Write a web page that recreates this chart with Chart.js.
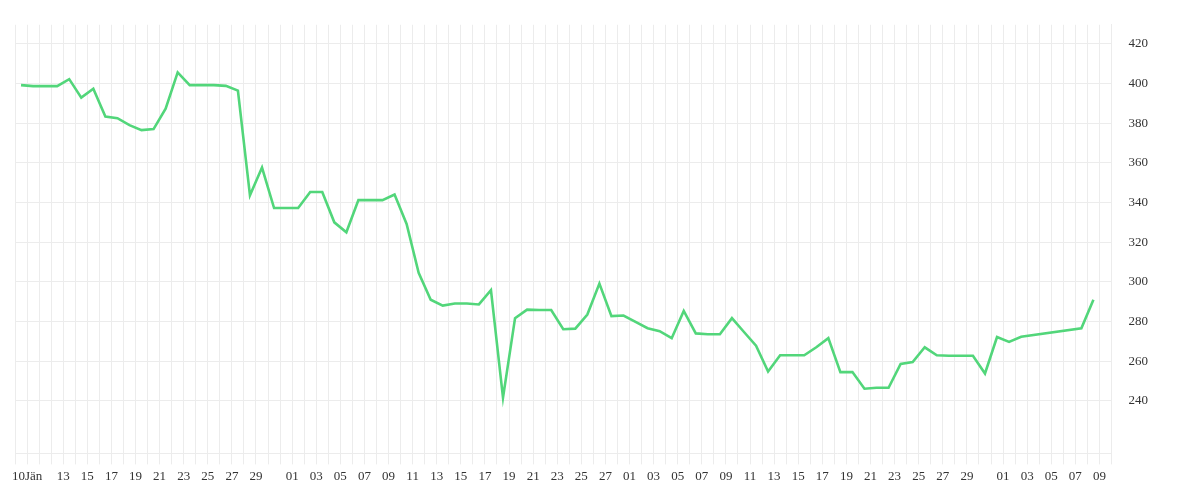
<!DOCTYPE html>
<html><head><meta charset="utf-8">
<script src="https://cdn.jsdelivr.net/npm/chart.js@4"></script>
<style>html,body{margin:0;padding:0;background:#fff}#w{width:1200px;height:500px}</style>
</head><body><div id="w"><canvas id="c"></canvas></div>
<script>
// day index 0 = 10 Jän; 90 days through 09 Apr
const startDate = [2021, 0, 10];
const dayIndex = [0,1,2,3,4,5,6,7,8,9,10,11,12,13,14,15,16,17,18,19,20,21,22,23,24,25,26,27,28,29,30,31,32,33,34,35,36,37,38,39,40,41,42,43,44,45,46,47,48,49,50,51,52,53,54,55,56,57,58,59,60,61,62,63,64,65,66,67,68,69,70,71,72,73,74,75,76,77,78,79,80,81,82,83,88,89];
const values = [399.2,398.7,398.7,398.7,402.2,392.9,397.4,383.3,382.5,379,376.5,377,387.3,405.6,399.2,399.2,399.2,398.8,396.4,343.6,357.6,337.2,337.2,337.2,345.3,345.3,330,325,341.2,341.2,341.2,344,329.2,304.6,291,288,289.1,289.1,288.6,295.8,241.6,281.7,286,285.8,285.8,276.1,276.4,283.5,299.1,282.7,283,279.8,276.6,275.1,271.6,285.3,274,273.6,273.6,281.7,274.7,267.8,254.8,263,263,263,267,271.6,254.5,254.5,246.1,246.6,246.6,258.6,259.6,267,263,262.7,262.7,262.7,253.8,272.2,269.7,272.3,276.6,291];
const yTicks = [240,260,280,300,320,340,360,380,400,420];
const firstLabel = '10Jän';

function labelFor(i){
  if(i===0) return firstLabel;
  const d = new Date(startDate[0], startDate[1], startDate[2]+i);
  const day = d.getDate();
  if(i<3 || day===31) return '';
  return day%2===1 ? String(day).padStart(2,'0') : '';
}
const pts = dayIndex.map((d,k)=>({x:d,y:values[k]}));
new Chart(document.getElementById('c'),{
  type:'line',
  data:{datasets:[{data:pts,borderColor:'rgb(82,214,122)',borderWidth:2.6,pointRadius:0,tension:0,fill:false}]},
  options:{
    responsive:true,maintainAspectRatio:false,animation:false,
    layout:{padding:{left:15,right:35,top:0,bottom:12}},
    plugins:{legend:{display:false},tooltip:{enabled:false}},
    scales:{
      x:{type:'linear',min:-0.5,max:90.5,
        afterBuildTicks:s=>{const t=[];for(let v=-0.5;v<=90.5;v+=1)t.push({value:v});s.ticks=t;},
        grid:{color:'#ececec',tickLength:11},
        border:{color:'#ececec'},
        ticks:{autoSkip:false,maxRotation:0,padding:4,color:'#333',font:{family:'Liberation Serif',size:13},
          callback:(v)=>{const i=Math.round(v-0.5);return (i>=0&&i<90)?labelFor(i):'';}}
      },
      y:{position:'right',min:213.5,max:429.6,
        afterBuildTicks:s=>{s.ticks=yTicks.map(v=>({value:v}));},
        grid:{color:'#ececec',drawTicks:false},
        border:{color:'#ececec'},
        ticks:{padding:17,color:'#333',font:{family:'Liberation Serif',size:13}}
      }
    }
  }
});
</script></body></html>
